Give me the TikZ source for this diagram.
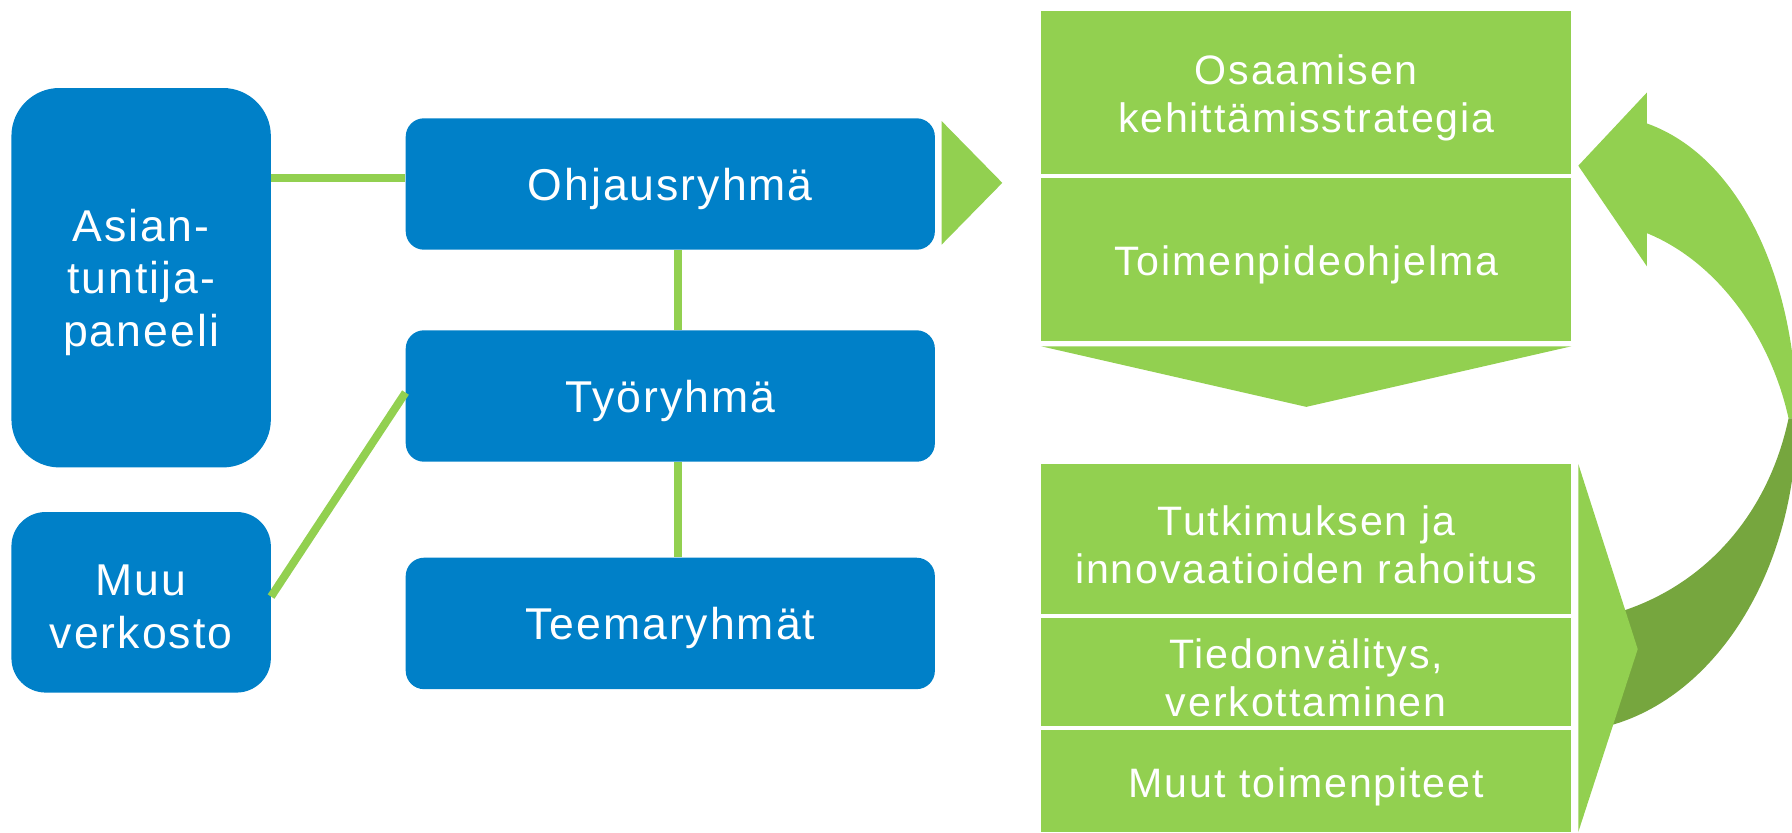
\documentclass[tikz,border=0pt]{standalone}
\usepackage{fontspec}
\setmainfont[LetterSpace=4.5]{Liberation Sans}
\definecolor{blueC}{HTML}{0080C8}
\definecolor{greenC}{HTML}{92D050}
\definecolor{darkC}{HTML}{76A63E}
\begin{document}
\begin{tikzpicture}[x=1pt,y=-1pt,
  btxt/.style={text=white,align=center,inner sep=0pt,font=\fontsize{39}{46}\selectfont},
  gtxt/.style={text=white,align=center,inner sep=0pt,font=\fontsize{36}{42}\selectfont},
  bluebox/.style={fill=blueC,minimum width=463pt,minimum height=115pt,rounded corners=16pt,inner sep=0pt},
  sidebox/.style={fill=blueC,minimum width=227pt,inner sep=0pt},
  greenbox/.style={fill=greenC,minimum width=464pt,inner sep=0pt},
  blab/.style={label={[btxt,yshift=-4pt]center:#1}},
  glab/.style={label={[gtxt,yshift=-5pt]center:#1}},
  link/.style={draw=greenC,line width=7pt}]
\useasboundingbox (0,0) rectangle (1568,728);
% curved arrow
\fill[greenC] (1441,108) .. controls (1525,138) and (1572,250) .. (1572,366)
  -- (1565,366) .. controls (1548,290) and (1500,228) .. (1441,204)
  -- (1441,233) -- (1381,145) -- (1441,81) -- cycle;
\fill[darkC] (1572,366) .. controls (1572,500) and (1500,615) .. (1400,637)
  -- (1400,540) .. controls (1480,522) and (1545,460) .. (1565,366) -- cycle;
% left boxes
\node[sidebox,minimum height=332pt,rounded corners=42pt,blab={Asian-\\tuntija-\\paneeli}] (asian) at (123.5,243) {};
\node[sidebox,minimum height=158pt,rounded corners=30pt,blab={Muu\\verkosto}] (muu) at (123.5,527) {};
\node[bluebox,blab={Ohjausryhmä}] (ohj) at (586.5,161) {};
\node[bluebox,blab={Työryhmä}] (tyo) at (586.5,346.5) {};
\node[bluebox,blab={Teemaryhmät}] (teema) at (586.5,545.5) {};
\draw[link] (asian.east |- 0,156) -- (ohj.west |- 0,156);
\draw[link] (ohj.south -| 593,0) -- (tyo.north -| 593,0);
\draw[link] (tyo.south -| 593,0) -- (teema.north -| 593,0);
\draw[link] ([yshift=5pt]muu.east) -- ([yshift=3pt]tyo.west);
% chevron
\fill[greenC] (824,106) -- (877,160) -- (824,214) -- cycle;
% green boxes
\node[greenbox,minimum height=142pt,glab={Osaamisen\\kehittämisstrategia}] (g1) at (1143,81) {};
\node[greenbox,minimum height=142pt,glab={Toimenpideohjelma}] (g2) at (1143,227) {};
\fill[greenC] (911,303) -- (1375,303) -- (1143,356) -- cycle;
\node[greenbox,minimum height=131pt,glab={Tutkimuksen ja\\innovaatioiden rahoitus}] (g3) at (1143,471.5) {};
\node[greenbox,minimum height=94pt,glab={Tiedonvälitys,\\verkottaminen}] (g4) at (1143,588) {};
\node[greenbox,minimum height=89pt,glab={Muut toimenpiteet}] (g5) at (1143,683.5) {};
\fill[greenC] (1381,406) -- (1433,568) -- (1381,728) -- cycle;
\end{tikzpicture}
\end{document}
